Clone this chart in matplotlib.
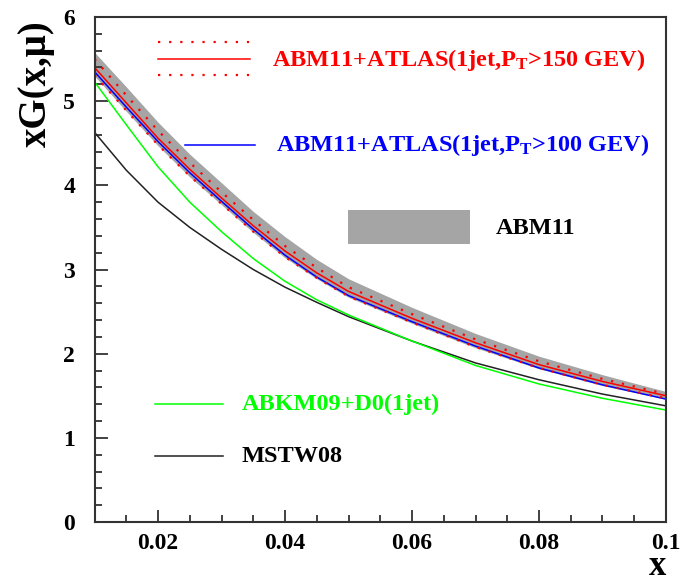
import numpy as np
import matplotlib
matplotlib.use('Agg')
import matplotlib.pyplot as plt
from matplotlib.ticker import MultipleLocator

plt.rcParams['font.family'] = ['Liberation Serif', 'DejaVu Serif']
plt.rcParams['font.weight'] = 'bold'
plt.rcParams['mathtext.fontset'] = 'custom'
plt.rcParams['mathtext.rm'] = 'Liberation Serif:bold'
plt.rcParams['mathtext.it'] = 'Liberation Serif:bold'
plt.rcParams['mathtext.bf'] = 'Liberation Serif:bold'

# values
x = [0.01, 0.015, 0.02, 0.025, 0.03, 0.035, 0.04, 0.045, 0.05, 0.06, 0.07, 0.08, 0.09, 0.1]
abm11_hi = [5.58, 5.17, 4.75, 4.37, 4.03, 3.69, 3.39, 3.12, 2.89, 2.55, 2.24, 1.97, 1.75, 1.55]
abm11_lo = [5.30, 4.88, 4.47, 4.10, 3.77, 3.44, 3.14, 2.89, 2.67, 2.36, 2.07, 1.82, 1.62, 1.46]
atlas150 = [5.40, 4.98, 4.56, 4.19, 3.85, 3.52, 3.22, 2.96, 2.74, 2.42, 2.13, 1.87, 1.67, 1.50]
atlas150_up = [5.50, 5.07, 4.65, 4.27, 3.92, 3.59, 3.28, 3.02, 2.79, 2.47, 2.17, 1.91, 1.70, 1.52]
atlas150_dn = [5.31, 4.89, 4.48, 4.11, 3.78, 3.45, 3.15, 2.90, 2.68, 2.37, 2.08, 1.83, 1.63, 1.47]
atlas100 = [5.35, 4.93, 4.52, 4.15, 3.81, 3.48, 3.17, 2.91, 2.69, 2.38, 2.09, 1.83, 1.63, 1.46]
abkm09 = [5.23, 4.72, 4.22, 3.80, 3.45, 3.13, 2.86, 2.64, 2.46, 2.15, 1.86, 1.64, 1.47, 1.33]
mstw08 = [4.63, 4.18, 3.80, 3.50, 3.24, 3.00, 2.79, 2.61, 2.44, 2.15, 1.89, 1.69, 1.52, 1.38]

gray = '#a5a5a5'
dots = (0, (1, 4))
leg_fs = 17.5

fig = plt.figure(figsize=(6.91, 5.86), dpi=100)
ax = fig.add_axes([0.1368, 0.1092, 0.9638 - 0.1368, 0.971 - 0.1092])

ax.fill_between(x, abm11_lo, abm11_hi, color=gray, linewidth=0)
ax.plot(x, mstw08, color='#222222', linewidth=1.1)
ax.plot(x, abkm09, color='#00ff00', linewidth=1.1)
ax.plot(x, atlas100, color='#0000ff', linewidth=1.1)
ax.plot(x, atlas150, color='#ff0000', linewidth=1.1)
ax.plot(x, atlas150_up, color='#ff0000', linewidth=1.6, linestyle=dots)
ax.plot(x, atlas150_dn, color='#ff0000', linewidth=1.6, linestyle=dots)

ax.set_xlim(0.01, 0.1)
ax.set_ylim(0, 6)
ax.xaxis.set_major_locator(MultipleLocator(0.02))
ax.xaxis.set_minor_locator(MultipleLocator(0.005))
ax.yaxis.set_major_locator(MultipleLocator(1))
ax.yaxis.set_minor_locator(MultipleLocator(0.2))
ax.set_xticks([0.02, 0.04, 0.06, 0.08, 0.1])
ax.set_xticklabels(['0.02', '0.04', '0.06', '0.08', '0.1'])
ax.tick_params(which='both', direction='in', top=False, right=False, labelsize=17, width=1.3, color='#333333')
ax.tick_params(which='major', length=9, pad=8)
ax.tick_params(which='minor', length=5)
ax.tick_params(axis='y', pad=14)
for s in ax.spines.values():
    s.set_linewidth(1.5)
    s.set_color('#333333')

fig.text(0.053, 0.858, 'xG(x,μ)', rotation=90, fontsize=28, ha='center', va='center')
fig.text(0.952, 0.018, 'x', fontsize=25, ha='center', va='baseline')

# legend
tr = ax.transAxes
def ax_xy(px, py):
    return ((px - 94.5) / (666 - 94.5), (522 - py) / (522 - 17))

x0, y0 = ax_xy(158, 42)
x1, y1 = ax_xy(250, 59)
_, y2 = ax_xy(0, 75)
ax.plot([x0, x1], [y0, y0], transform=tr, color='#ff0000', linewidth=1.6, linestyle=dots)
ax.plot([x0, x1], [y1, y1], transform=tr, color='#ff0000', linewidth=1.1)
ax.plot([x0, x1], [y2, y2], transform=tr, color='#ff0000', linewidth=1.6, linestyle=dots)
tx, ty = ax_xy(272, 60)
ax.text(tx, ty, r'ABM11+ATLAS(1jet,P$_{\mathrm{T}}$>150 GEV)', transform=tr, color='#ff0000',
        fontsize=leg_fs, va='center', ha='left')

x0, y0 = ax_xy(185, 145)
x1, _ = ax_xy(255, 145)
ax.plot([x0, x1], [y0, y0], transform=tr, color='#0000ff', linewidth=1.1)
tx, ty = ax_xy(276, 145)
ax.text(tx, ty, r'ABM11+ATLAS(1jet,P$_{\mathrm{T}}$>100 GEV)', transform=tr, color='#0000ff',
        fontsize=leg_fs, va='center', ha='left')

bx0, by0 = ax_xy(348, 244)
bx1, by1 = ax_xy(470, 210)
ax.add_patch(plt.Rectangle((bx0, by0), bx1 - bx0, by1 - by0, transform=tr, color=gray, linewidth=0))
tx, ty = ax_xy(496, 228)
ax.text(tx, ty, 'ABM11', transform=tr, color='black', fontsize=leg_fs, va='center', ha='left')

x0, y0 = ax_xy(155, 404)
x1, _ = ax_xy(223, 404)
ax.plot([x0, x1], [y0, y0], transform=tr, color='#00ff00', linewidth=1.1)
tx, ty = ax_xy(242, 404)
ax.text(tx, ty, 'ABKM09+D0(1jet)', transform=tr, color='#00ff00', fontsize=leg_fs, va='center', ha='left')

x0, y0 = ax_xy(155, 456)
x1, _ = ax_xy(223, 456)
ax.plot([x0, x1], [y0, y0], transform=tr, color='#222222', linewidth=1.1)
tx, ty = ax_xy(242, 456)
ax.text(tx, ty, 'MSTW08', transform=tr, color='black', fontsize=leg_fs, va='center', ha='left')

fig.savefig('out.png', dpi=100)
